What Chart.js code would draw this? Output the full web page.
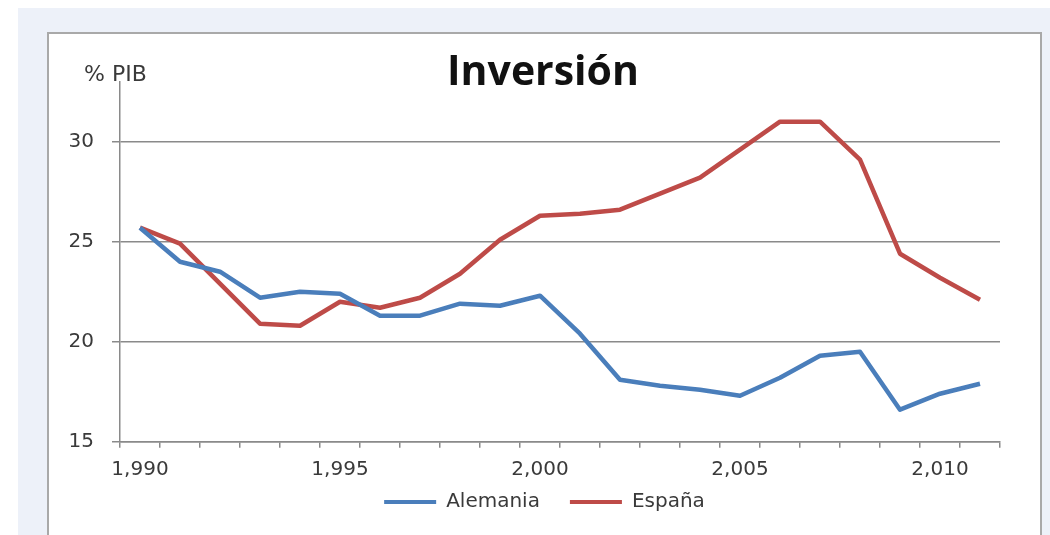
<!DOCTYPE html>
<html>
<head>
<meta charset="utf-8">
<script src="https://cdn.jsdelivr.net/npm/chart.js@4.4.1/dist/chart.umd.min.js"></script>
<style>
  html, body { margin: 0; padding: 0; width: 1050px; height: 535px; overflow: hidden; background: #ffffff; }
  #bg { position: absolute; left: 18px; top: 8px; right: 0; bottom: 0; background: #edf1f9; }
  #box { position: absolute; left: 47px; top: 32px; width: 991px; height: 540px; background: #ffffff; border: 2px solid #a9a9a9; }
  #wrap { position: absolute; left: 0; top: 0; width: 991px; height: 520px; }
</style>
</head>
<body>
<div id="bg"></div>
<div id="box"><div id="wrap"><canvas id="c"></canvas></div></div>
<script>
const years = [1990,1991,1992,1993,1994,1995,1996,1997,1998,1999,2000,2001,2002,2003,2004,2005,2006,2007,2008,2009,2010,2011];
const alemania = [25.7,24.0,23.5,22.2,22.5,22.4,21.3,21.3,21.9,21.8,22.3,20.4,18.1,17.8,17.6,17.3,18.2,19.3,19.5,16.6,17.4,17.9];
const espana = [25.7,24.9,22.9,20.9,20.8,22.0,21.7,22.2,23.4,25.1,26.3,26.4,26.6,27.4,28.2,29.6,31.0,31.0,29.1,24.4,23.2,22.1];
const yTicks = [15,20,25,30];
const seriesNames = ['Alemania','España'];
const chartTitle = 'Inversión';
const yUnit = '% PIB';

const gridColor = '#8a8a8a';
const textColor = '#3a3a3a';

const overlayText = {
  id: 'overlayText',
  afterLayout(chart) {
    const lg = chart.legend;
    if (lg) {
      const h = lg.bottom - lg.top;
      lg.top = 428;
      lg.bottom = lg.top + h;
      lg.left += 20;
      lg.right += 20;
    }
  },
  afterDraw(chart) {
    const ctx = chart.ctx;
    const area = chart.chartArea;
    ctx.save();
    ctx.fillStyle = '#111111';
    ctx.font = 'bold 41px "Open Sans"';
    ctx.textAlign = 'center';
    ctx.textBaseline = 'alphabetic';
    ctx.fillText(chartTitle, 494, 51);
    ctx.fillStyle = textColor;
    ctx.font = '22px "DejaVu Sans"';
    ctx.textAlign = 'left';
    ctx.fillText(yUnit, area.left - 36, 47);
    ctx.restore();
  }
};

new Chart(document.getElementById('c'), {
  type: 'line',
  data: {
    labels: years,
    datasets: [
      { label: seriesNames[0], data: alemania, borderColor: '#4a7ebb', backgroundColor: '#4a7ebb', borderWidth: 4.5, pointRadius: 0, tension: 0, borderJoinStyle: 'round' },
      { label: seriesNames[1], data: espana, borderColor: '#be4b48', backgroundColor: '#be4b48', borderWidth: 4.5, pointRadius: 0, tension: 0, borderJoinStyle: 'round' }
    ]
  },
  options: {
    responsive: true,
    maintainAspectRatio: false,
    animation: false,
    layout: { padding: { left: 0, right: 40, top: 47.7, bottom: 12.3 } },
    plugins: {
      title: { display: false },
      tooltip: { enabled: false },
      legend: {
        display: true,
        position: 'bottom',
        labels: {
          boxWidth: 52,
          boxHeight: 4,
          padding: 30,
          color: textColor,
          font: { family: '"DejaVu Sans"', size: 20 },
          generateLabels: (chart) => chart.data.datasets.map((ds, i) => ({
            text: ds.label, fillStyle: ds.borderColor, strokeStyle: ds.borderColor,
            lineWidth: 0, hidden: false, datasetIndex: i, fontColor: textColor
          }))
        }
      }
    },
    scales: {
      x: {
        type: 'category',
        offset: true,
        afterFit: (s) => { s.height = 40; },
        grid: { display: true, offset: true, drawOnChartArea: false, drawTicks: true, tickLength: 6, color: gridColor, lineWidth: 1.5 },
        border: { display: true, color: gridColor, width: 1.5 },
        ticks: {
          autoSkip: false,
          maxRotation: 0,
          padding: 10,
          color: textColor,
          font: { family: '"DejaVu Sans"', size: 20 },
          callback: function(value, index) {
            const y = years[index];
            return (y % 5 === 0) ? y.toLocaleString('en-US') : '';
          }
        }
      },
      y: {
        min: 15,
        max: 33,
        afterFit: (s) => { s.width = 71; },
        afterBuildTicks: (s) => { s.ticks = yTicks.map(v => ({ value: v })); },
        grid: { display: true, drawTicks: true, tickLength: 8, color: gridColor, lineWidth: 1.5 },
        border: { display: true, color: gridColor, width: 1.5 },
        ticks: {
          padding: 18,
          color: textColor,
          font: { family: '"DejaVu Sans"', size: 20 }
        }
      }
    }
  },
  plugins: [overlayText]
});
</script>
</body>
</html>
